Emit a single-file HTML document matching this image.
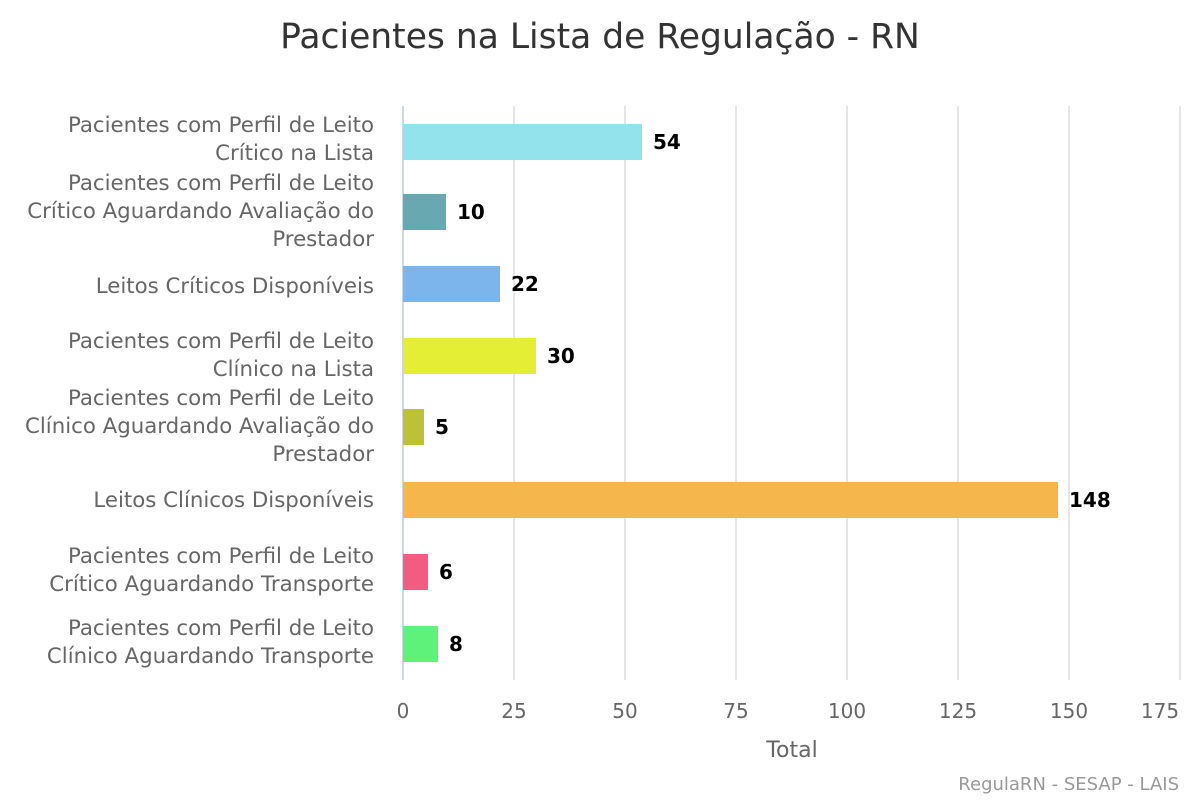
<!DOCTYPE html>
<html><head><meta charset="utf-8"><style>
body{margin:0;background:#fff}
svg{display:block;font-family:"DejaVu Sans","Liberation Sans",sans-serif}
</style></head><body>
<svg width="1200" height="800" viewBox="0 0 1200 800">
<text x="600" y="48" text-anchor="middle" font-size="34.5" fill="#333">Pacientes na Lista de Regulação - RN</text>
<g stroke="#e6e6e6" stroke-width="2">
<line x1="514" y1="106" x2="514" y2="680"/><line x1="625" y1="106" x2="625" y2="680"/>
<line x1="736" y1="106" x2="736" y2="680"/><line x1="847" y1="106" x2="847" y2="680"/>
<line x1="958" y1="106" x2="958" y2="680"/><line x1="1069" y1="106" x2="1069" y2="680"/>
<line x1="1180" y1="106" x2="1180" y2="680"/>
</g>
<line x1="403" y1="106" x2="403" y2="680" stroke="#ccd6eb" stroke-width="2"/>
<g>
<rect x="403" y="124" width="239" height="36" fill="#93e3ec"/>
<rect x="403" y="194" width="43" height="36" fill="#68a8b1"/>
<rect x="403" y="266" width="97" height="36" fill="#7cb5ec"/>
<rect x="403" y="338" width="133" height="36" fill="#e4ee34"/>
<rect x="403" y="409" width="21" height="36" fill="#bcc137"/>
<rect x="403" y="482" width="655" height="36" fill="#f5b64c"/>
<rect x="403" y="554" width="25" height="36" fill="#f15c80"/>
<rect x="403" y="626" width="35" height="36" fill="#5ef27a"/>
</g>
<g font-size="20" font-weight="bold" fill="#000">
<text x="653" y="149">54</text><text x="457" y="219">10</text><text x="511" y="291">22</text>
<text x="547" y="363">30</text><text x="435" y="434">5</text><text x="1069" y="507">148</text>
<text x="439" y="579">6</text><text x="449" y="651">8</text>
</g>
<g font-size="21.3" fill="#666" text-anchor="end">
<text x="374" y="132">Pacientes com Perfil de Leito</text><text x="374" y="160">Crítico na Lista</text>
<text x="374" y="190">Pacientes com Perfil de Leito</text><text x="374" y="218">Crítico Aguardando Avaliação do</text><text x="374" y="246">Prestador</text>
<text x="374" y="293">Leitos Críticos Disponíveis</text>
<text x="374" y="348">Pacientes com Perfil de Leito</text><text x="374" y="376">Clínico na Lista</text>
<text x="374" y="405">Pacientes com Perfil de Leito</text><text x="374" y="433">Clínico Aguardando Avaliação do</text><text x="374" y="461">Prestador</text>
<text x="374" y="507">Leitos Clínicos Disponíveis</text>
<text x="374" y="563">Pacientes com Perfil de Leito</text><text x="374" y="591">Crítico Aguardando Transporte</text>
<text x="374" y="635">Pacientes com Perfil de Leito</text><text x="374" y="663">Clínico Aguardando Transporte</text>
</g>
<g font-size="20" fill="#666" text-anchor="middle">
<text x="403" y="718">0</text><text x="514" y="718">25</text><text x="625" y="718">50</text><text x="736" y="718">75</text>
<text x="847" y="718">100</text><text x="958" y="718">125</text><text x="1069" y="718">150</text><text x="1160" y="718">175</text>
<text x="792" y="757" font-size="22">Total</text>
</g>
<text x="1179" y="790" text-anchor="end" font-size="18" fill="#999">RegulaRN - SESAP - LAIS</text>
</svg>
</body></html>
